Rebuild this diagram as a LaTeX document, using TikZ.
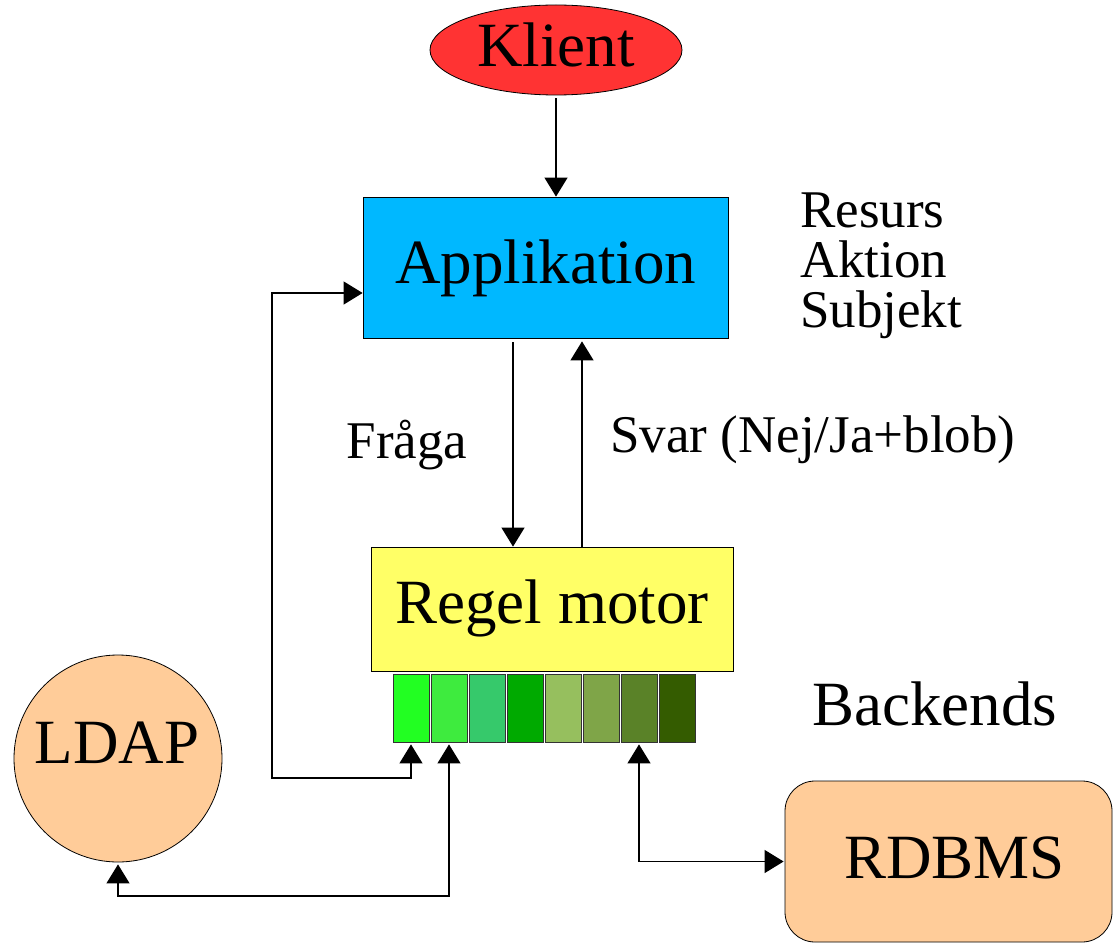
\documentclass[tikz,border=0pt]{standalone}
\usepackage{fontspec}
\setmainfont{Liberation Serif}
\usetikzlibrary{arrows.meta,shapes.geometric}
\definecolor{kred}{HTML}{FF3333}
\definecolor{appblue}{HTML}{00B8FF}
\definecolor{regyellow}{HTML}{FFFF66}
\definecolor{peach}{HTML}{FFCC99}
\definecolor{ca}{HTML}{22FF22}
\definecolor{cb}{HTML}{3EEB3E}
\definecolor{cc}{HTML}{36C96B}
\definecolor{cd}{HTML}{00AA00}
\definecolor{ce}{HTML}{96BF5E}
\definecolor{cf}{HTML}{7FA548}
\definecolor{cg}{HTML}{5A8228}
\definecolor{ch}{HTML}{345C00}
\tikzset{
  big/.style={font=\fontsize{63}{63}\selectfont},
  small/.style={font=\fontsize{53}{53}\selectfont},
  shapebox/.style={draw=black,line width=0.8pt,inner sep=0pt,text depth=0pt},
  cell/.style={draw=black!80,line width=0.8pt,minimum width=36pt,minimum height=68pt,inner sep=0pt},
  conn/.style={line width=1.2pt,draw=black},
  tipend/.style={conn,-{Triangle[length=19pt,width=23pt]}},
  tipboth/.style={conn,{Triangle[length=19pt,width=23pt]}-{Triangle[length=19pt,width=23pt]}}
}
\begin{document}
\begin{tikzpicture}[x=1pt,y=-1pt]
\useasboundingbox (0,0) rectangle (1113,944);
% shapes
\node[shapebox,ellipse,fill=kred,minimum width=252pt,minimum height=90pt,big,text height=33.4pt] (klient) at (556,50) {Klient};
\node[shapebox,rectangle,fill=appblue,minimum width=365pt,minimum height=141pt,big,text height=31pt] (app) at (545.5,267.5) {Applikation};
\node[shapebox,rectangle,fill=regyellow,minimum width=362pt,minimum height=124pt,big,text height=28pt] (regel) at (552,609) {Regel motor};
\node[shapebox,ellipse,fill=peach,minimum width=208pt,minimum height=207pt] (ldap) at (118,758.5) {};
\node[big,anchor=base,inner sep=0pt] (ldaptext) at (117,763) {LDAP};
\node[shapebox,rectangle,rounded corners=30pt,fill=peach,minimum width=327pt,minimum height=161pt,big,text height=33pt] (rdbms) at (948.5,861.5) {\hspace*{12pt}RDBMS};
% backend cells
\node[cell,fill=ca] (c1) at (411,708) {};
\node[cell,fill=cb] (c2) at (449,708) {};
\node[cell,fill=cc] (c3) at (487,708) {};
\node[cell,fill=cd] (c4) at (525,708) {};
\node[cell,fill=ce] (c5) at (563,708) {};
\node[cell,fill=cf] (c6) at (601,708) {};
\node[cell,fill=cg] (c7) at (639,708) {};
\node[cell,fill=ch] (c8) at (677,708) {};
% texts
\node[small,anchor=base west,inner sep=0pt] (resurs) at (800,227) {Resurs};
\node[small,anchor=base west,inner sep=0pt] (aktion) at (800,277) {Aktion};
\node[small,anchor=base west,inner sep=0pt] (subjekt) at (800,327) {Subjekt};
\node[small,anchor=base,inner sep=0pt] (fraga) at (407,458) {Fråga};
\node[small,anchor=base west,inner sep=0pt] (svar) at (610,452) {Svar (Nej/Ja+blob)};
\node[big,anchor=base west,inner sep=0pt] (backends) at (812,725) {Backends};
% connectors
\draw[tipend] ([yshift=-3pt]klient.south) -- (klient.south |- app.north);
\draw[tipend] ([xshift=-32.5pt,yshift=-4pt]app.south) -- ([xshift=-39pt]regel.north);
\draw[tipend] ([xshift=30pt]regel.north) -- ([xshift=36.5pt,yshift=-3pt]app.south);
\coordinate (lc) at (272,778);
\draw[tipboth] ([yshift=-25.5pt]app.west) -| (lc) -| ([yshift=-2pt]c1.south);
\coordinate (lb) at (449,896);
\draw[tipboth] ([yshift=-2pt]ldap.south) |- (lb) -- ([yshift=-2pt]c2.south);
\draw[tipboth] ([yshift=-2pt]c7.south) |- ([xshift=-1pt]rdbms.west);
\end{tikzpicture}
\end{document}
